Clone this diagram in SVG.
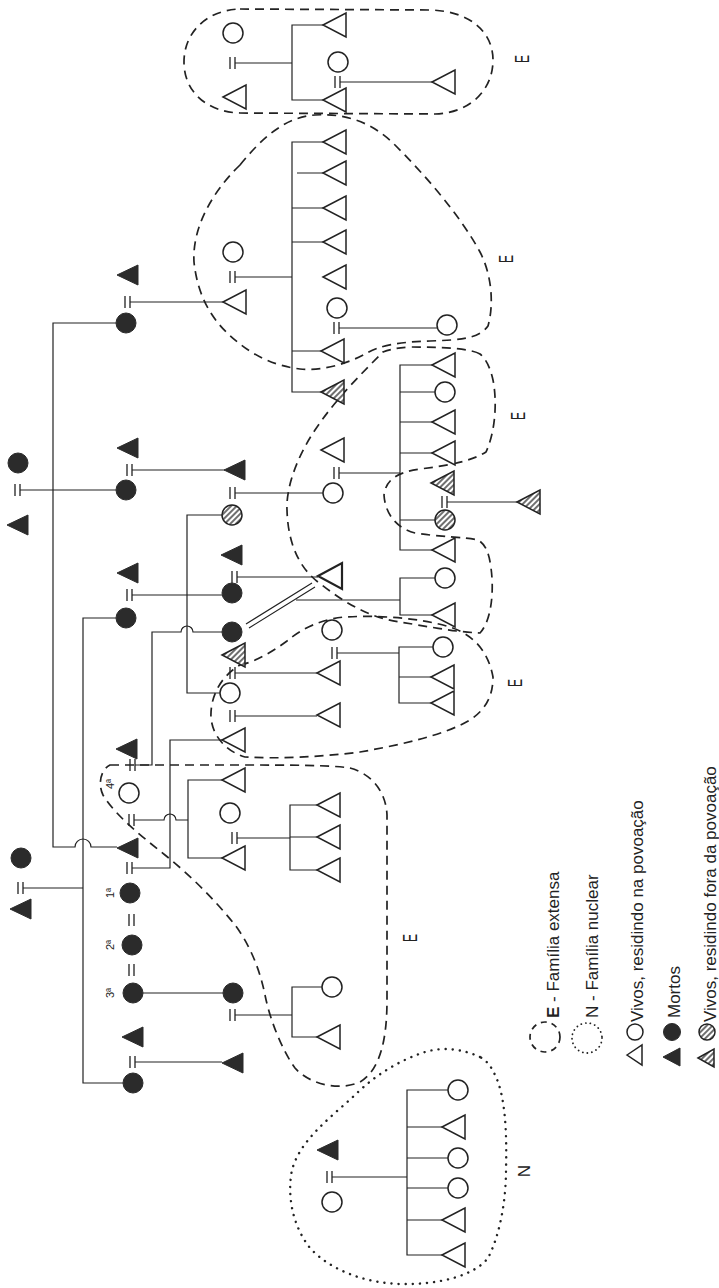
<svg xmlns="http://www.w3.org/2000/svg" width="719" height="1288" viewBox="0 0 719 1288">
<style>
.o{fill:#fff;stroke:#222;stroke-width:1.5}
.f{fill:#2b2b2b;stroke:#2b2b2b;stroke-width:1}
.h{fill:url(#hatch);stroke:#222;stroke-width:1.5}
.ln{fill:none;stroke:#222;stroke-width:1.2}
.mar{fill:none;stroke:#222;stroke-width:1.3}
.dash{fill:none;stroke:#222;stroke-width:1.7;stroke-dasharray:9 6}
.dot{fill:none;stroke:#222;stroke-width:2.4;stroke-dasharray:0.1 7;stroke-linecap:round}
.lbl{font-family:"Liberation Sans",Arial,sans-serif;fill:#222}
</style>
<defs>
<pattern id="hatch" patternUnits="userSpaceOnUse" width="4" height="4" patternTransform="rotate(45)"><rect width="4" height="4" fill="#fff"/><line x1="1" y1="0" x2="1" y2="4" stroke="#222" stroke-width="1.3"/></pattern>
<path id="tri" d="M-12,0 L11,-12 L11,12 Z"/>
<path id="ftri" d="M-11,0 L10,-10 L10,10 Z"/>
<circle id="cir" r="10"/>
<path id="mar" d="M-3,-6 V6 M2,-6 V6"/>
</defs>
<rect width="719" height="1288" fill="#fff"/>

<g id="groups">
<path class="dash" d="M240,9 L430,10 C470,11 493,32 493,60 C493,90 470,113 435,114 L240,113 C207,112 184,92 184,62 C184,32 207,10 240,9 Z"/>
<path class="dash" d="M240,165 C262,138 285,117 315,115 C345,113 372,122 395,145 C425,175 460,215 480,252 C492,275 494,305 488,326 C478,340 455,340 430,341 C400,342 380,345 365,354 C345,365 320,371 300,369 C275,366 255,356 240,344 C215,325 198,300 194,262 C192,228 212,192 240,165 Z"/>
<path class="dash" d="M480,354 C470,348 440,347 410,347 C395,348 388,350 383,352 C360,375 335,400 315,430 C295,460 286,490 287,510 C288,545 300,570 322,585 C345,603 370,618 400,622 C425,626 455,632 480,633 C492,620 494,590 491,568 C489,552 485,544 478,540 C465,537 440,537 415,533 C395,528 385,512 384,495 C386,478 400,472 420,469 C445,466 470,462 486,452 C496,430 497,400 493,380 C490,367 486,359 480,354 Z"/>
<path class="dash" d="M240,665 C255,662 272,652 287,641 C300,630 320,619 345,617 C380,615 420,618 450,627 C472,634 488,650 493,677 C493,697 485,710 470,720 C445,735 400,745 360,752 C320,757 280,759 245,757 C228,752 213,738 211,718 C210,700 218,678 240,665 Z"/>
<path class="dash" d="M110,765 L240,765 C290,765 330,765 350,768 C372,774 386,792 387,815 L387,1000 C387,1040 380,1070 360,1082 C340,1091 310,1085 295,1068 C282,1050 270,1020 265,995 C260,970 250,945 235,925 C215,900 190,875 165,855 C140,835 115,815 103,795 C98,785 100,770 110,765 Z"/>
<path class="dot" d="M480,1057 C465,1050 445,1046 425,1052 C400,1060 375,1075 355,1095 C330,1118 300,1140 292,1170 C287,1195 292,1225 310,1248 C330,1270 365,1283 400,1284 C440,1285 475,1275 488,1258 C500,1235 506,1200 506,1170 C507,1130 505,1095 495,1075 C491,1066 486,1060 480,1057 Z"/>
<text class="lbl" font-size="20" transform="translate(529,59) rotate(-90) scale(0.6,1)" text-anchor="middle">E</text>
<text class="lbl" font-size="20" transform="translate(513,259) rotate(-90) scale(0.6,1)" text-anchor="middle">E</text>
<text class="lbl" font-size="20" transform="translate(525,416) rotate(-90) scale(0.6,1)" text-anchor="middle">E</text>
<text class="lbl" font-size="20" transform="translate(522,683) rotate(-90) scale(0.6,1)" text-anchor="middle">E</text>
<text class="lbl" font-size="20" transform="translate(417,938) rotate(-90) scale(0.6,1)" text-anchor="middle">E</text>
<text class="lbl" font-size="17" transform="translate(530,1171) rotate(-90)" text-anchor="middle">N</text>
</g>

<g id="connectors">
<use href="#mar" class="mar" x="18" y="490"/>
<use href="#mar" class="mar" x="21" y="888"/>
<use href="#mar" class="mar" x="128" y="302"/>
<use href="#mar" class="mar" x="130" y="470"/>
<use href="#mar" class="mar" x="130" y="595"/>
<use href="#mar" class="mar" x="133" y="765"/>
<use href="#mar" class="mar" x="132" y="820"/>
<use href="#mar" class="mar" x="130" y="868"/>
<use href="#mar" class="mar" x="132" y="920"/>
<use href="#mar" class="mar" x="132" y="970"/>
<use href="#mar" class="mar" x="133" y="1062"/>
<use href="#mar" class="mar" x="233" y="63"/>
<use href="#mar" class="mar" x="233" y="277"/>
<use href="#mar" class="mar" x="233" y="493"/>
<use href="#mar" class="mar" x="235" y="577"/>
<use href="#mar" class="mar" x="233" y="673"/>
<use href="#mar" class="mar" x="233" y="716"/>
<use href="#mar" class="mar" x="235" y="838"/>
<use href="#mar" class="mar" x="233" y="1015"/>
<use href="#mar" class="mar" x="338" y="82"/>
<use href="#mar" class="mar" x="337" y="328"/>
<use href="#mar" class="mar" x="337" y="473"/>
<use href="#mar" class="mar" x="335" y="653"/>
<use href="#mar" class="mar" x="330" y="1177"/>
<use href="#mar" class="mar" x="445" y="502"/>
<path class="ln" d="M20,490 H116"/>
<path class="ln" d="M116,323 H53 V847 H75 A8,8 0 0 1 91,847 H117"/>
<path class="ln" d="M23,888 H83"/>
<path class="ln" d="M116,618 H83 V1083 H123"/>
<path class="ln" d="M130,302 H223"/>
<path class="ln" d="M132,470 H225"/>
<path class="ln" d="M132,595 H222"/>
<path class="ln" d="M222,515 H187 V693 H220"/>
<path class="ln" d="M135,765 H152 V632 H181 A6,6 0 0 1 193,632 H222"/>
<path class="ln" d="M134,820 H164 A6,6 0 0 1 176,820 H188"/>
<path class="ln" d="M222,780 H188 V858 H222"/>
<path class="ln" d="M132,868 H170 V740 H222"/>
<path class="ln" d="M143,993 H223"/>
<path class="ln" d="M135,1062 H222"/>
<path class="ln" d="M235,63 H292 M323,25 H292 V100 H323"/>
<path class="ln" d="M235,277 H292 M323,142 H292 V392 H321 M323,173 H297 M323,208 H292 M323,242 H292 M321,351 H292"/>
<path class="ln" d="M235,493 H323"/>
<path class="ln" d="M237,577 H318"/>
<path class="ln" d="M246,624 L312,583 M249,628 L315,587"/>
<path class="ln" d="M296,600 H400 M435,578 H400 V615 H432"/>
<path class="ln" d="M235,673 H317"/>
<path class="ln" d="M235,716 H317"/>
<path class="ln" d="M237,838 H290 M317,805 H290 V870 H317 M290,837 H317"/>
<path class="ln" d="M235,1015 H292 M322,987 H292 V1037 H317"/>
<path class="ln" d="M340,82 H432"/>
<path class="ln" d="M339,328 H437"/>
<path class="ln" d="M339,473 H400 M432,365 H400 V550 H432 M400,392 H435 M400,422 H432 M400,453 H432 M400,520 H435"/>
<path class="ln" d="M337,653 H399 M433,647 H399 V703 H431 M399,677 H431"/>
<path class="ln" d="M332,1177 H407 M448,1090 H407 V1255 H442 M407,1127 H442 M407,1158 H448 M407,1188 H448 M407,1220 H442"/>
<path class="ln" d="M447,502 H517"/>
</g>

<g id="nodes">
<g id="g1_f1"><use href="#cir" class="f" x="18" y="463"/></g>
<g id="g1_m1"><use href="#ftri" class="f" x="18" y="525"/></g>
<g id="g1_f2"><use href="#cir" class="f" x="21" y="858"/></g>
<g id="g1_m2"><use href="#ftri" class="f" x="21" y="909"/></g>

<g id="g2_m1"><use href="#ftri" class="f" x="128" y="275"/></g>
<g id="g2_f1"><use href="#cir" class="f" x="126" y="323"/></g>
<g id="g2_m2"><use href="#ftri" class="f" x="128" y="448"/></g>
<g id="g2_f2"><use href="#cir" class="f" x="126" y="490"/></g>
<g id="g2_m3"><use href="#ftri" class="f" x="128" y="573"/></g>
<g id="g2_f3"><use href="#cir" class="f" x="126" y="618"/></g>
<g id="g2_m4"><use href="#ftri" class="f" x="127" y="749"/></g>
<g id="g2_w4"><use href="#cir" class="o" x="129" y="793"/><text class="lbl" font-size="11" transform="translate(114,784) rotate(-90)" text-anchor="middle">4ª</text></g>
<g id="g2_m5"><use href="#ftri" class="f" x="128" y="848"/></g>
<g id="g2_w1"><use href="#cir" class="f" x="130" y="893"/><text class="lbl" font-size="11" transform="translate(114,893) rotate(-90)" text-anchor="middle">1ª</text></g>
<g id="g2_w2"><use href="#cir" class="f" x="132" y="945"/><text class="lbl" font-size="11" transform="translate(114,945) rotate(-90)" text-anchor="middle">2ª</text></g>
<g id="g2_w3"><use href="#cir" class="f" x="133" y="993"/><text class="lbl" font-size="11" transform="translate(114,993) rotate(-90)" text-anchor="middle">3ª</text></g>
<g id="g2_m6"><use href="#ftri" class="f" x="133" y="1037"/></g>
<g id="g2_f6"><use href="#cir" class="f" x="133" y="1083"/></g>

<g id="g3_a1"><use href="#cir" class="o" x="233" y="33"/></g>
<g id="g3_a2"><use href="#tri" class="o" x="235" y="97"/></g>
<g id="g3_b1"><use href="#cir" class="o" x="233" y="252"/></g>
<g id="g3_b2"><use href="#tri" class="o" x="235" y="302"/></g>
<g id="g3_c1"><use href="#ftri" class="f" x="235" y="470"/></g>
<g id="g3_c2"><use href="#cir" class="h" x="232" y="515"/></g>
<g id="g3_d1"><use href="#ftri" class="f" x="232" y="555"/></g>
<g id="g3_d2"><use href="#cir" class="f" x="232" y="593"/></g>
<g id="g3_e1"><use href="#cir" class="f" x="232" y="632"/></g>
<g id="g3_f1"><use href="#tri" class="h" x="234" y="655"/></g>
<g id="g3_f2"><use href="#cir" class="o" x="230" y="693"/></g>
<g id="g3_f3"><use href="#tri" class="o" x="234" y="740"/></g>
<g id="g3_g1"><use href="#tri" class="o" x="234" y="780"/></g>
<g id="g3_g2"><use href="#cir" class="o" x="230" y="813"/></g>
<g id="g3_g3"><use href="#tri" class="o" x="234" y="858"/></g>
<g id="g3_h1"><use href="#cir" class="f" x="233" y="993"/></g>
<g id="g3_h2"><use href="#ftri" class="f" x="233" y="1063"/></g>

<g id="g4_a1"><use href="#tri" class="o" x="335" y="25"/></g>
<g id="g4_a2"><use href="#cir" class="o" x="338" y="62"/></g>
<g id="g4_a3"><use href="#tri" class="o" x="335" y="100"/></g>
<g id="g4_b1"><use href="#tri" class="o" x="335" y="142"/></g>
<g id="g4_b2"><use href="#tri" class="o" x="335" y="173"/></g>
<g id="g4_b3"><use href="#tri" class="o" x="335" y="208"/></g>
<g id="g4_b4"><use href="#tri" class="o" x="335" y="242"/></g>
<g id="g4_b5"><use href="#tri" class="o" x="335" y="277"/></g>
<g id="g4_b6"><use href="#cir" class="o" x="337" y="308"/></g>
<g id="g4_b7"><use href="#tri" class="o" x="333" y="351"/></g>
<g id="g4_b8"><use href="#tri" class="h" x="333" y="392"/></g>
<g id="g4_c1"><use href="#tri" class="o" x="333" y="450"/></g>
<g id="g4_c2"><use href="#cir" class="o" x="333" y="493"/></g>
<g id="g4_d1"><path class="o" style="stroke-width:2.2" d="M318,576 L342,563 L342,589 Z"/></g>
<g id="g4_e1"><use href="#cir" class="o" x="332" y="630"/></g>
<g id="g4_e2"><use href="#tri" class="o" x="329" y="673"/></g>
<g id="g4_e3"><use href="#tri" class="o" x="329" y="715"/></g>
<g id="g4_f1"><use href="#tri" class="o" x="329" y="805"/></g>
<g id="g4_f2"><use href="#tri" class="o" x="329" y="837"/></g>
<g id="g4_f3"><use href="#tri" class="o" x="329" y="870"/></g>
<g id="g4_g1"><use href="#cir" class="o" x="332" y="987"/></g>
<g id="g4_g2"><use href="#tri" class="o" x="329" y="1037"/></g>
<g id="g4_n1"><use href="#ftri" class="f" x="328" y="1150"/></g>
<g id="g4_n2"><use href="#cir" class="o" x="332" y="1202"/></g>

<g id="g5_a1"><use href="#tri" class="o" x="444" y="82"/></g>
<g id="g5_b1"><use href="#cir" class="o" x="447" y="325"/></g>
<g id="g5_c1"><use href="#tri" class="o" x="444" y="365"/></g>
<g id="g5_c2"><use href="#cir" class="o" x="445" y="392"/></g>
<g id="g5_c3"><use href="#tri" class="o" x="444" y="422"/></g>
<g id="g5_c4"><use href="#tri" class="o" x="444" y="453"/></g>
<g id="g5_c5"><use href="#tri" class="h" x="443" y="483"/></g>
<g id="g5_c6"><use href="#cir" class="h" x="445" y="520"/></g>
<g id="g5_c7"><use href="#tri" class="o" x="444" y="550"/></g>
<g id="g5_d1"><use href="#cir" class="o" x="445" y="578"/></g>
<g id="g5_d2"><use href="#tri" class="o" x="444" y="615"/></g>
<g id="g5_e1"><use href="#cir" class="o" x="443" y="647"/></g>
<g id="g5_e2"><use href="#tri" class="o" x="443" y="677"/></g>
<g id="g5_e3"><use href="#tri" class="o" x="443" y="703"/></g>
<g id="g5_n1"><use href="#cir" class="o" x="458" y="1090"/></g>
<g id="g5_n2"><use href="#tri" class="o" x="454" y="1127"/></g>
<g id="g5_n3"><use href="#cir" class="o" x="458" y="1158"/></g>
<g id="g5_n4"><use href="#cir" class="o" x="458" y="1188"/></g>
<g id="g5_n5"><use href="#tri" class="o" x="454" y="1220"/></g>
<g id="g5_n6"><use href="#tri" class="o" x="454" y="1255"/></g>
<g id="g6_a1"><use href="#tri" class="h" x="529" y="502"/></g>
</g>

<g id="legend">
<circle class="dash" cx="545" cy="1037" r="15" style="stroke-dasharray:6 5"/>
<circle class="dot" cx="587" cy="1038" r="15" style="stroke-width:1.8;stroke-dasharray:0.1 4.5"/>
<path class="o" d="M627,1055 L642,1045 L642,1065 Z"/>
<circle class="o" cx="635" cy="1032" r="8"/>
<path class="f" d="M663,1057 L680,1048 L680,1066 Z"/>
<circle class="f" cx="672" cy="1032" r="8.5"/>
<path class="h" d="M698,1058 L714,1049 L714,1067 Z"/>
<circle class="h" cx="707" cy="1032" r="8"/>
<text class="lbl" font-size="17" transform="translate(559,1018) rotate(-90)"><tspan font-weight="bold">E</tspan> - Família  extensa</text>
<text class="lbl" font-size="17" transform="translate(598,1018) rotate(-90)">N - Família  nuclear</text>
<text class="lbl" font-size="17" transform="translate(643,1022) rotate(-90)">Vivos, residindo na povoação</text>
<text class="lbl" font-size="17" transform="translate(680,1018) rotate(-90)">Mortos</text>
<text class="lbl" font-size="17" transform="translate(716,1022) rotate(-90)">Vivos, residindo fora da povoação</text>
</g>
</svg>
